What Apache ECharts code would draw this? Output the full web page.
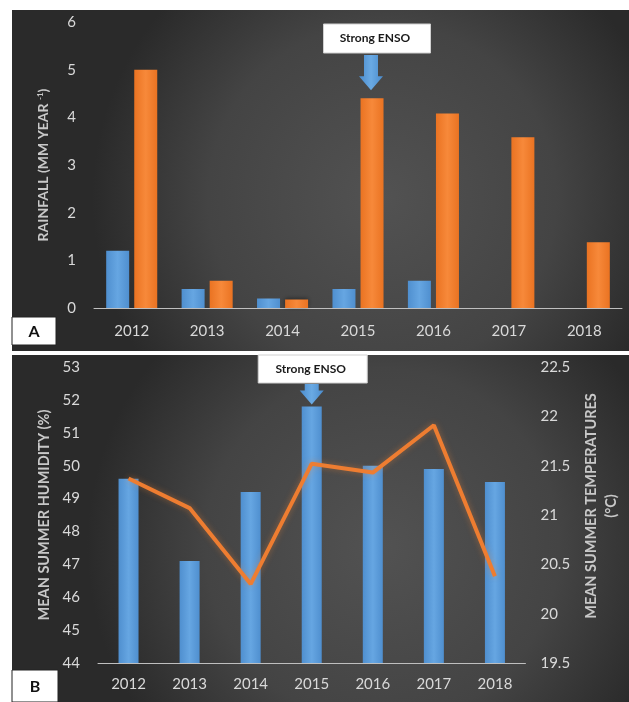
<!DOCTYPE html>
<html>
<head>
<meta charset="utf-8">
<script src="https://cdn.jsdelivr.net/npm/echarts@6/dist/echarts.min.js"></script>
<style>
html,body{margin:0;padding:0;background:#ffffff;}
#chart{width:629px;height:702px;}
</style>
</head>
<body>
<div id="chart"></div>
<script>
// ---- data ----
const years = ['2012', '2013', '2014', '2015', '2016', '2017', '2018'];
const rainfallBlue = [1.2, 0.4, 0.2, 0.4, 0.57, null, null];
const rainfallOrange = [5.0, 0.57, 0.18, 4.4, 4.08, 3.58, 1.38];
const humidity = [49.6, 47.1, 49.2, 51.8, 50.0, 49.9, 49.5];
const temperature = [21.37, 21.07, 20.30, 21.52, 21.43, 21.91, 20.38];
const rainTicks = {min: 0, max: 6, interval: 1};
const humidityTicks = {min: 44, max: 53, interval: 1};
const tempTicks = {min: 19.5, max: 22.5, interval: 0.5};
const ensoYear = '2015';
const ensoText = 'Strong ENSO';

const FONT = 'Lato, "Open Sans", sans-serif';
const TICK = '#d9d9d9';
const TITLE = '#c8c8c8';

function blueGrad() {
  return new echarts.graphic.LinearGradient(0, 0, 1, 0, [
    {offset: 0, color: '#4f8fcf'},
    {offset: 0.5, color: '#66a6e2'},
    {offset: 1, color: '#4f8fcf'}
  ]);
}
function orangeGrad() {
  return new echarts.graphic.LinearGradient(0, 0, 1, 0, [
    {offset: 0, color: '#ea7322'},
    {offset: 0.5, color: '#f7893a'},
    {offset: 1, color: '#ea7322'}
  ]);
}
function panelBg() {
  return new echarts.graphic.RadialGradient(0.6, 0.55, 0.85, [
    {offset: 0, color: '#525252'},
    {offset: 0.6, color: '#444444'},
    {offset: 1, color: '#2a2a2a'}
  ]);
}

const chart = echarts.init(document.getElementById('chart'));

const option = {
  backgroundColor: '#ffffff',
  animation: false,
  textStyle: {fontFamily: FONT},
  grid: [
    {left: 94, right: 7, top: 22, bottom: 394},
    {left: 98, right: 94, top: 367, bottom: 39}
  ],
  xAxis: [
    {
      gridIndex: 0, type: 'category', data: years,
      axisLine: {lineStyle: {color: '#bfbfbf', width: 1}},
      axisTick: {show: false},
      axisLabel: {color: TICK, fontSize: 15, margin: 16, fontFamily: FONT}
    },
    {
      gridIndex: 1, type: 'category', data: years,
      axisLine: {lineStyle: {color: '#bfbfbf', width: 1}},
      axisTick: {show: false},
      axisLabel: {color: TICK, fontSize: 15, margin: 14, fontFamily: FONT}
    }
  ],
  yAxis: [
    {
      gridIndex: 0, type: 'value',
      min: rainTicks.min, max: rainTicks.max, interval: rainTicks.interval,
      splitLine: {show: false}, axisLine: {show: false}, axisTick: {show: false},
      axisLabel: {color: TICK, fontSize: 15, margin: 18, fontFamily: FONT},
      name: 'RAINFALL (MM YEAR {s|-1})',
      nameLocation: 'middle', nameRotate: 90, nameGap: 44,
      nameTextStyle: {
        color: TITLE, fontSize: 14, fontWeight: 'bold', fontFamily: FONT,
        rich: {s: {fontSize: 8, fontWeight: 'bold', color: TITLE, verticalAlign: 'top', padding: [0, 0, 6, 0]}}
      }
    },
    {
      gridIndex: 1, type: 'value',
      min: humidityTicks.min, max: humidityTicks.max, interval: humidityTicks.interval,
      splitLine: {show: false}, axisLine: {show: false}, axisTick: {show: false},
      axisLabel: {color: TICK, fontSize: 15, margin: 18, fontFamily: FONT},
      name: 'MEAN SUMMER HUMIDITY (%)',
      nameLocation: 'middle', nameRotate: 90, nameGap: 44,
      nameTextStyle: {color: TITLE, fontSize: 14.5, fontWeight: 'bold', fontFamily: FONT}
    },
    {
      gridIndex: 1, type: 'value', position: 'right',
      min: tempTicks.min, max: tempTicks.max, interval: tempTicks.interval,
      splitLine: {show: false}, axisLine: {show: false}, axisTick: {show: false},
      axisLabel: {color: TICK, fontSize: 15, margin: 15, fontFamily: FONT},
      name: 'MEAN SUMMER TEMPERATURES\n(°C)',
      nameLocation: 'middle', nameRotate: 90, nameGap: 55,
      nameTextStyle: {color: TITLE, fontSize: 14.5, fontWeight: 'bold', fontFamily: FONT, lineHeight: 20,
        padding: [0, 0, 0, 18]}
    }
  ],
  series: [
    {
      type: 'bar', xAxisIndex: 0, yAxisIndex: 0, data: rainfallBlue,
      barWidth: 23, barGap: '22%',
      itemStyle: {color: blueGrad()}
    },
    {
      type: 'bar', xAxisIndex: 0, yAxisIndex: 0, data: rainfallOrange,
      barWidth: 23, barGap: '22%',
      itemStyle: {color: orangeGrad(), shadowColor: 'rgba(0,0,0,0.45)', shadowBlur: 4, shadowOffsetY: -1}
    },
    {
      type: 'bar', xAxisIndex: 1, yAxisIndex: 1, data: humidity,
      barWidth: 20,
      itemStyle: {color: blueGrad()}
    },
    {
      type: 'line', xAxisIndex: 1, yAxisIndex: 2, data: temperature,
      symbol: 'none',
      lineStyle: {color: '#ee7d31', width: 4, shadowColor: 'rgba(240,130,50,0.45)', shadowBlur: 6},
      z: 5
    }
  ]
};
chart.setOption(option);

// ---- annotations (panel backgrounds, labels, ENSO call-outs) ----
const idx = years.indexOf(ensoYear);
const aCenter = chart.convertToPixel({xAxisIndex: 0}, idx);
const aTop = chart.convertToPixel({yAxisIndex: 0}, rainfallOrange[idx]);
const aArrowX = aCenter + 13;
const bCenter = chart.convertToPixel({xAxisIndex: 1}, idx);
const bTop = chart.convertToPixel({yAxisIndex: 1}, humidity[idx]);

function arrow(cx, y0, y1) {
  const shaftW = 7, headW = 12, headH = 14;
  return {
    type: 'polygon', z: 20,
    shape: {points: [
      [cx - shaftW, y0], [cx + shaftW, y0], [cx + shaftW, y1 - headH],
      [cx + headW, y1 - headH], [cx, y1], [cx - headW, y1 - headH], [cx - shaftW, y1 - headH]
    ]},
    style: {fill: new echarts.graphic.LinearGradient(0, 0, 1, 0, [
      {offset: 0, color: '#4a8bcc'}, {offset: 0.5, color: '#6aaae4'}, {offset: 1, color: '#4a8bcc'}
    ])}
  };
}
function callout(cx, y, w, h) {
  return [
    {type: 'rect', z: 20, shape: {x: cx - w / 2, y: y, width: w, height: h},
     style: {fill: '#ffffff', stroke: '#d0d0d0', lineWidth: 1}},
    {type: 'text', z: 21, style: {x: cx - 2, y: y + h / 2, text: ensoText, align: 'center', verticalAlign: 'middle',
      fill: '#1a1a1a', font: 'bold 12px ' + FONT}}
  ];
}
function panelLabel(txt, x, y, w, h) {
  return [
    {type: 'rect', z: 20, shape: {x: x, y: y, width: w, height: h},
     style: {fill: '#ffffff', stroke: '#222222', lineWidth: 1}},
    {type: 'text', z: 21, style: {x: x + w / 2, y: y + h / 2 + 1, text: txt, align: 'center', verticalAlign: 'middle',
      fill: '#111111', font: 'bold 16px ' + FONT}}
  ];
}

chart.setOption({
  graphic: [
    {type: 'rect', z: -10, silent: true, shape: {x: 12, y: 10, width: 617, height: 341}, style: {fill: panelBg()}},
    {type: 'rect', z: -10, silent: true, shape: {x: 12, y: 355, width: 617, height: 347}, style: {fill: panelBg()}},
    ...callout(aArrowX + 6, 24, 107, 29),
    arrow(aArrowX, 55, aTop - 8),
    ...callout(bCenter + 1, 355, 109, 28),
    arrow(bCenter, 384, bTop - 2),
    ...panelLabel('A', 12, 317, 44, 28),
    ...panelLabel('B', 12, 670, 46, 32)
  ]
});
</script>
</body>
</html>
